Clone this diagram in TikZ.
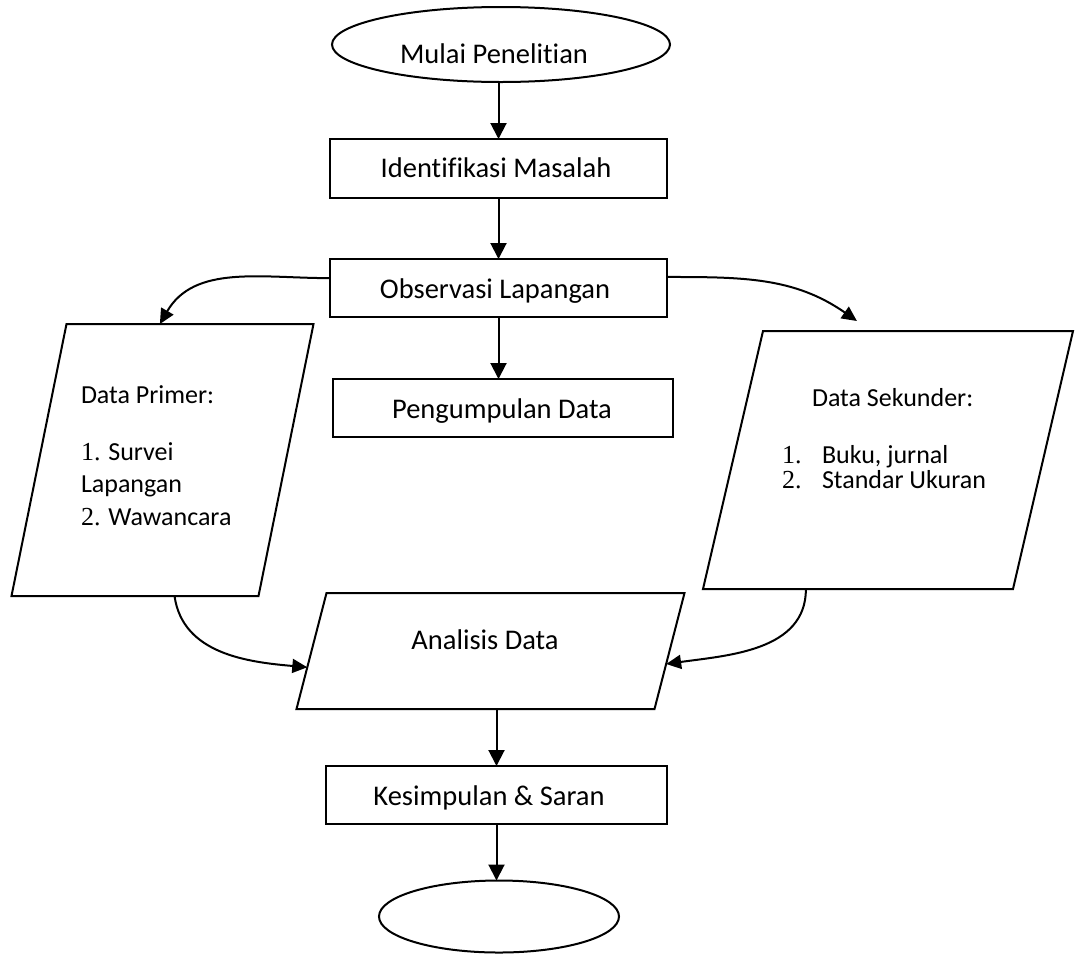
\documentclass[tikz,border=0pt]{standalone}
\usepackage{fontspec}
\setmainfont{Carlito}[Ligatures=NoCommon]
\newfontfamily\numfont{Liberation Serif}
\usetikzlibrary{shapes.geometric,arrows.meta,calc}
\begin{document}
\begin{tikzpicture}[x=1pt,y=1pt,line width=2pt,
  every node/.style={inner sep=0pt,outer sep=0pt},
  box/.style={draw,rectangle,line width=2pt},
  oval/.style={draw,ellipse,line width=2pt},
  para/.style={draw,rectangle,line width=2pt,transform shape},
  maintxt/.style={font=\fontsize{28.5}{34}\selectfont,anchor=base},
  paratxt/.style={font=\fontsize{26}{31}\selectfont,anchor=base west},
  arr/.style={-{Triangle[length=16pt,width=16pt]},line width=2pt},
  carr/.style={-{Triangle[length=15pt,width=14pt]},line width=2pt}
]
\useasboundingbox (0,0) rectangle (1075,-954);

% shapes
\node[oval,minimum width=338,minimum height=75] (start) at (501,-44.5) {};
\node[box,minimum width=337,minimum height=59] (ident) at (498.5,-168.5) {};
\node[box,minimum width=337,minimum height=58] (obs) at (498.5,-288) {};
\node[box,minimum width=340,minimum height=58] (peng) at (503,-408) {};
\node[para,xslant=0.2022,minimum width=247,minimum height=272] (prim) at (162.5,-460) {};
\node[para,xslant=0.2326,minimum width=310,minimum height=258] (sek) at (888,-460) {};
\node[para,xslant=0.2586,minimum width=358,minimum height=116] (ana) at (490.5,-651) {};
\node[box,minimum width=341,minimum height=58] (kes) at (496.5,-795) {};
\node[oval,minimum width=240,minimum height=72] (stop) at (499,-916.5) {};

% texts
\node[maintxt] (t0) at (494,-63) {Mulai Penelitian};
\node[maintxt] (t1) at (496,-177) {Identifikasi Masalah};
\node[maintxt] (t2) at (495,-298) {Observasi Lapangan};
\node[maintxt] (t3) at (502,-418) {Pengumpulan Data};
\node[maintxt] (t4) at (485,-649) {Analisis Data};
\node[maintxt] (t5) at (489,-805) {Kesimpulan \& Saran};

\node[paratxt] (p1) at (81,-403) {Data Primer:};
\node[paratxt] (p2) at (81,-460) {{\numfont 1.} Survei};
\node[paratxt] (p3) at (81,-492) {Lapangan};
\node[paratxt] (p4) at (81,-525) {{\numfont 2.} Wawancara};

\node[paratxt] (s1) at (812,-406) {Data Sekunder:};
\node[paratxt] (s2) at (782,-463) {\makebox[40pt][l]{\numfont 1.}Buku, jurnal};
\node[paratxt] (s3) at (782,-488) {\makebox[40pt][l]{\numfont 2.}Standar Ukuran};

% straight connectors
\draw[arr] (ident.north |- start.south) -- (ident.north);
\draw[arr] (ident.south) -- (obs.north);
\draw[arr] (obs.south) -- (obs.south |- peng.north);
\draw[arr] (ana.south -| kes.north) -- (kes.north);
\draw[arr] (kes.south) -- (kes.south |- stop.north);

% curved connectors
\draw[carr] ($(obs.north west)!0.33!(obs.south west)$) to[out=180,in=60]
  ($(prim.north west)!0.378!(prim.north east)$);
\draw[carr] ($(obs.north east)!0.31!(obs.south east)$) to[out=0,in=145]
  ($(sek.north west)!0.303!(sek.north east)+(0,10)$);
\draw[carr] ($(prim.south west)!0.66!(prim.south east)$) to[out=-82,in=175]
  ($(ana.south west)!0.36!(ana.north west)$);
\draw[carr] ($(sek.south west)!0.332!(sek.south east)$) to[out=-90,in=8]
  ($(ana.south east)!0.388!(ana.north east)$);
\end{tikzpicture}
\end{document}
